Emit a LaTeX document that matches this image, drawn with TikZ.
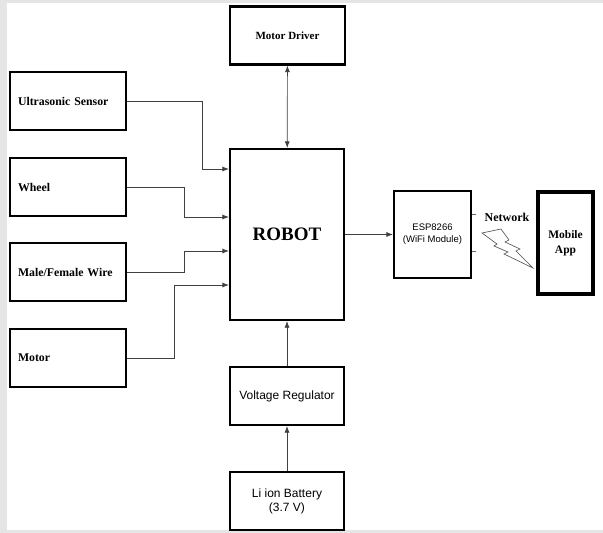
\documentclass[tikz,border=0pt]{standalone}
\usepackage{fontspec}
\setmainfont{Liberation Serif}
\newfontfamily\arialfont{Liberation Sans}
\usetikzlibrary{arrows.meta}
\tikzset{
  block/.style={draw, line width=2.2pt, minimum height=58pt, inner sep=0pt, font=\bfseries\fontsize{11.8}{13}\selectfont},
  inblock/.style={block, text width=100pt, inner xsep=8pt, align=left},
  sansblock/.style={block, font=\arialfont\fontsize{12}{14}\selectfont, align=center},
  conn/.style={draw=black!75, line width=0.7pt, ->}
}
\begin{document}
\begin{tikzpicture}[x=1pt,y=-1pt, >={Latex[length=6.5pt,width=5pt]}]
  \fill[black!10] (0,0) rectangle (603,533);
  \fill[white] (7,3) rectangle (603,530);
  \useasboundingbox (0,0) rectangle (603,533);

  \node[block, minimum width=115pt, font=\bfseries\fontsize{11}{13}\selectfont] (mdrv) at (287.5,35.5) {Motor Driver};
  \node[inblock] (ultra) at (68,101) {Ultrasonic Sensor};
  \node[inblock] (wheel) at (68,187) {Wheel};
  \node[inblock] (wire) at (68,272) {Male/Female Wire};
  \node[inblock] (motor) at (68,358) {Motor};
  \node[block, minimum width=114pt, minimum height=171pt,
        font=\bfseries\fontsize{19}{21}\selectfont] (robot) at (287,234.5) {ROBOT};
  \node[sansblock, minimum width=114pt] (vreg) at (287,396) {Voltage Regulator};
  \node[sansblock, minimum width=114pt] (batt) at (287,501) {Li ion Battery\\(3.7 V)};
  \node[block, minimum width=77pt, minimum height=87pt, align=center,
        font=\arialfont\fontsize{9.5}{12}\selectfont] (esp) at (432.5,234.5) {ESP8266\\(WiFi Module)};
  \node[block, line width=3.4pt, minimum width=55pt, minimum height=102pt, align=center,
        font=\bfseries\fontsize{11.5}{15}\selectfont] (app) at (565.5,243) {Mobile\\App};
  \node[font=\bfseries\fontsize{12}{14}\selectfont] (net) at (507,217) {Network};

  % inputs to the robot
  \draw[conn] (ultra.east) -- ++(75,0) |- ([yshift=65.5pt]robot.west);
  \draw[conn] (wheel.east) -- ++(57,0) |- ([yshift=17.5pt]robot.west);
  \draw[conn] (wire.east) -- ++(57,0) |- ([yshift=-16.5pt]robot.west);
  \draw[conn] (motor.east) -- ++(47,0) |- ([yshift=-50.5pt]robot.west);

  \draw[conn, <->] (mdrv) -- (robot);
  \draw[conn] (robot) -- (esp);
  \draw[conn] (vreg) -- (robot);
  \draw[conn] (batt) -- (vreg);

  % wireless link
  \draw[black!60, line width=0.5pt] ([yshift=20.5pt]esp.east) -- ++(4,0);
  \draw[black!60, line width=0.5pt] ([yshift=-16.5pt]esp.east) -- ++(4,0);
  \draw[black!70, line width=0.6pt, line join=miter]
    (482,233) -- (501,229) -- (509,240) -- (505,242) -- (520,249) -- (516,251)
    -- (533,268) -- (504,254) -- (508,252) -- (494,246) -- (497,244) -- cycle;
\end{tikzpicture}
\end{document}
